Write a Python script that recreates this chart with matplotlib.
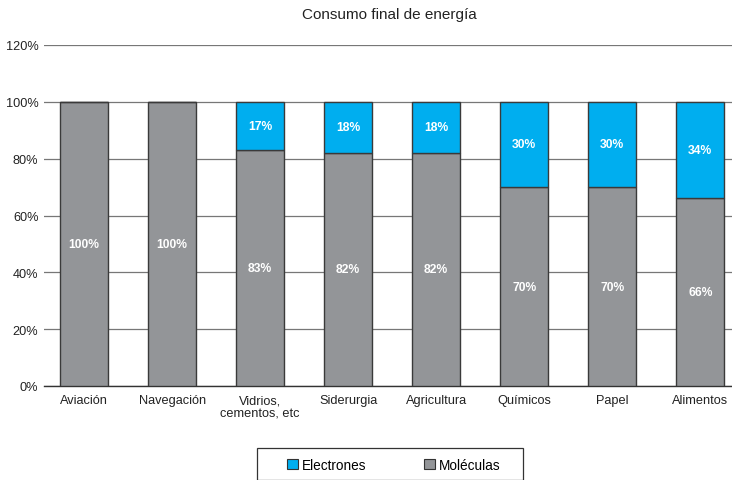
import matplotlib
matplotlib.use("Agg")
import matplotlib.pyplot as plt
from matplotlib.patches import Patch, Rectangle

categories = ["Aviación", "Navegación", "Vidrios,\ncementos, etc", "Siderurgia",
              "Agricultura", "Químicos", "Papel", "Alimentos"]
moleculas = [100, 100, 83, 82, 82, 70, 70, 66]
electrones = [0, 0, 17, 18, 18, 30, 30, 34]
yticks = [0, 20, 40, 60, 80, 100, 120]

plt.rcParams['font.family'] = ['Liberation Sans', 'DejaVu Sans']

fig = plt.figure(figsize=(7.32, 4.81), dpi=100)
ax = fig.add_axes([44/732, 1-387/481, (732-44)/732, (387-46)/481])

gray = "#939598"
blue = "#00AEEF"
x = list(range(len(categories)))
w = 0.545
ax.bar(x, moleculas, width=w, color=gray, edgecolor="#3a3a3a", linewidth=1.0, zorder=3)
ax.bar(x, electrones, width=w, bottom=moleculas, color=blue, edgecolor="#3a3a3a",
       linewidth=1.0, zorder=3)

for i in x:
    ax.text(i, moleculas[i]/2, f"{moleculas[i]}%", ha="center", va="center",
            color="white", fontweight="bold", fontsize=8.7, zorder=4)
    if electrones[i] > 0:
        ax.text(i, moleculas[i] + electrones[i]/2, f"{electrones[i]}%", ha="center",
                va="center", color="white", fontweight="bold", fontsize=8.7, zorder=4)

ax.set_ylim(0, 120)
ax.set_xlim(-0.455, 7.36)
ax.set_yticks(yticks)
ax.set_yticklabels([f"{t}%" for t in yticks], fontsize=9.2, color="#222222")
ax.set_xticks(x)
ax.set_xticklabels(categories, fontsize=9.2, linespacing=1.1, color="#222222")
ax.tick_params(axis="x", length=0, pad=6)
ax.tick_params(axis="y", length=0, pad=4)
ax.yaxis.grid(True, color="#777777", linewidth=0.9, zorder=0)
for s in ["top", "right", "left"]:
    ax.spines[s].set_visible(False)
ax.spines["bottom"].set_color("#333333")
ax.spines["bottom"].set_linewidth(1.0)

fig.text(389/732, 1-15/481, "Consumo final de energía", ha="center", va="center",
         fontsize=11, color="#222222")

# legend box
fig.patches.append(Rectangle((257/732, 0), (523-257)/732, 1-449/481,
                             transform=fig.transFigure, facecolor="white",
                             edgecolor="#333333", linewidth=0.9))
handles = [Patch(facecolor=blue, edgecolor="#333333", linewidth=0.8, label="Electrones"),
           Patch(facecolor=gray, edgecolor="#333333", linewidth=0.8, label="Moléculas")]
leg = fig.legend(handles=handles, loc="center left", ncol=2,
                 bbox_to_anchor=(287/732, 1-466/481), bbox_transform=fig.transFigure,
                 frameon=False, fontsize=9.8,
                 handlelength=0.8, handleheight=0.8, handletextpad=0.3,
                 columnspacing=4.2, borderpad=0, borderaxespad=0)

fig.savefig("out.png", dpi=100)
